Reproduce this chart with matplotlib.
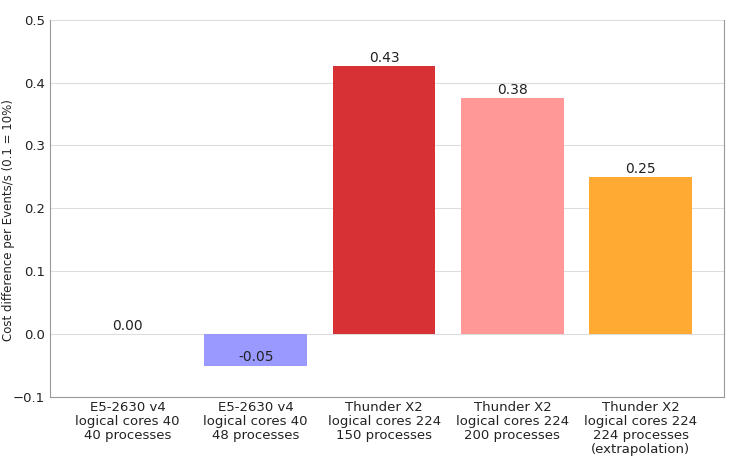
import matplotlib
matplotlib.use("Agg")
import matplotlib.pyplot as plt

categories = [
    "E5-2630 v4\nlogical cores 40\n40 processes",
    "E5-2630 v4\nlogical cores 40\n48 processes",
    "Thunder X2\nlogical cores 224\n150 processes",
    "Thunder X2\nlogical cores 224\n200 processes",
    "Thunder X2\nlogical cores 224\n224 processes\n(extrapolation)",
]
values = [0.0, -0.05, 0.426, 0.375, 0.25]
colors = ["#ffffff", "#9999ff", "#d73035", "#ff9896", "#ffaa33"]

fig, ax = plt.subplots(figsize=(7.52, 4.58), dpi=100)
fig.subplots_adjust(left=0.067, right=0.963, top=0.957, bottom=0.133)

x = list(range(len(categories)))
ax.bar(x, values, width=0.8, color=colors, zorder=2)
for xi, v in zip(x, values):
    ax.text(xi, v + 0.002, f"{v:.2f}", ha="center", va="bottom", fontsize=10, color="#222222", zorder=3)

ax.set_xlim(-0.6, 4.65)
ax.set_ylim(-0.1, 0.5)
ax.set_yticks([-0.1, 0.0, 0.1, 0.2, 0.3, 0.4, 0.5])
ax.set_xticks(x)
ax.set_xticklabels(categories, fontsize=9.5, color="#222222", linespacing=1.1)
ax.tick_params(axis="y", labelsize=9.5, colors="#222222", length=0, pad=4)
ax.tick_params(axis="x", length=0, pad=3)
ax.grid(axis="y", color="#dddddd", linewidth=0.8, zorder=0)
for s in ax.spines.values():
    s.set_color("#999999")
    s.set_linewidth(0.8)
ax.spines["top"].set_visible(False)
ax.set_ylabel("Cost difference per Events/s (0.1 = 10%)", fontsize=8.5, color="#222222")
ax.yaxis.set_label_coords(-0.053, 0.47)

fig.savefig("out.png", dpi=100)
